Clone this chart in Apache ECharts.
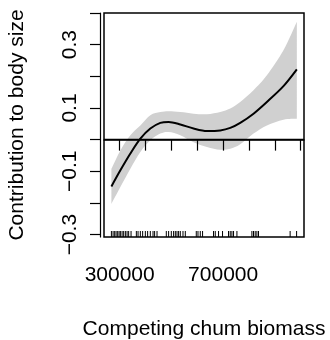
<!DOCTYPE html>
<html>
<head>
<meta charset="utf-8">
<script src="https://cdn.jsdelivr.net/npm/echarts@6/dist/echarts.min.js"></script>
<style>html,body{margin:0;padding:0;background:#fff;}#c{width:330px;height:340px;}</style>
</head>
<body>
<div id="c"></div>
<script>
// Fitted smooth (x = competing chum biomass)
const xFit = [268000, 302700, 341300, 379900, 418500, 457100, 489200, 534400, 585700, 637400, 688800, 727400, 766000, 817400, 869100, 933200, 984900];
const yFit = [-0.148, -0.097, -0.044, 0.003, 0.035, 0.053, 0.056, 0.048, 0.035, 0.027, 0.029, 0.037, 0.053, 0.082, 0.119, 0.169, 0.222];
const yUpper = [-0.092, -0.034, 0.014, 0.045, 0.077, 0.087, 0.090, 0.087, 0.082, 0.080, 0.087, 0.098, 0.119, 0.156, 0.203, 0.282, 0.372];
const yLower = [-0.203, -0.150, -0.092, -0.039, -0.002, 0.019, 0.024, 0.014, -0.008, -0.023, -0.032, -0.029, -0.015, 0.019, 0.045, 0.063, 0.066];
// Rug of observed x values
const rugX = [268000, 274500, 280700, 286100, 292300, 297700, 302700, 309300, 315400, 322000, 328600, 334700, 344000,
  364500, 371000, 379900, 388800, 399200, 408100, 418500, 428900, 435100, 444400,
  480300, 489200, 499600, 508500, 515100, 521600, 527800, 534400, 544800, 553700,
  596100, 602700, 611600, 620500,
  662900, 669500, 682200, 697700, 720800, 727400, 733900, 740200, 753300,
  811200, 817400, 823900, 830500, 836700,
  959000, 984000];
// Axis ticks and labels
const xTicks = [300000, 400000, 500000, 600000, 700000, 800000, 900000, 1000000];
const xLabelValues = [300000, 700000];
const yTicks = [-0.3, -0.2, -0.1, 0, 0.1, 0.2, 0.3, 0.4];
const yLabelValues = [-0.3, -0.1, 0.1, 0.3];
const yLabelText = ['\u22120.3', '\u22120.1', '0.1', '0.3'];
const X_MIN = 239400, X_MAX = 1012600, Y_MIN = -0.3076, Y_MAX = 0.4;

const FONT = 'Liberation Sans, Arial, Helvetica, sans-serif';

// Catmull-Rom -> cubic bezier path segments through screen points
function curveSegs(pts) {
  let d = '';
  for (let i = 0; i < pts.length - 1; i++) {
    const p0 = pts[Math.max(i - 1, 0)], p1 = pts[i], p2 = pts[i + 1], p3 = pts[Math.min(i + 2, pts.length - 1)];
    const c1 = [p1[0] + (p2[0] - p0[0]) / 6, p1[1] + (p2[1] - p0[1]) / 6];
    const c2 = [p2[0] - (p3[0] - p1[0]) / 6, p2[1] - (p3[1] - p1[1]) / 6];
    d += ' C' + c1[0] + ' ' + c1[1] + ' ' + c2[0] + ' ' + c2[1] + ' ' + p2[0] + ' ' + p2[1];
  }
  return d;
}

const chart = echarts.init(document.getElementById('c'), null, {renderer: 'canvas'});
chart.setOption({
  animation: false,
  backgroundColor: '#fff',
  grid: {left: 104, right: 26, top: 13, bottom: 103, containLabel: false, outerBoundsMode: 'none',
    show: true, borderColor: '#000', borderWidth: 1.5, backgroundColor: 'transparent'},
  xAxis: {
    type: 'value', min: X_MIN, max: X_MAX, z: 10,
    name: 'Competing chum biomass', nameLocation: 'middle', nameGap: 82,
    nameTextStyle: {fontFamily: FONT, fontSize: 21, color: '#000'},
    axisLine: {show: true, lineStyle: {color: '#000', width: 1.5}},
    axisTick: {show: true, customValues: xTicks, length: 11, lineStyle: {color: '#000', width: 1.2}},
    axisLabel: {show: true, customValues: xLabelValues, margin: 28, fontFamily: FONT, fontSize: 21, color: '#000',
      formatter: v => String(v)},
    splitLine: {show: false}
  },
  yAxis: {
    type: 'value', min: Y_MIN, max: Y_MAX, offset: 4, z: 10,
    name: 'Contribution to body size', nameLocation: 'middle', nameGap: 72,
    nameTextStyle: {fontFamily: FONT, fontSize: 21, color: '#000'},
    axisLine: {show: true, lineStyle: {color: '#000', width: 1.2}},
    axisTick: {show: true, customValues: yTicks, length: 10, lineStyle: {color: '#000', width: 1.2}},
    axisLabel: {show: true, customValues: yLabelValues, rotate: 90, margin: 19, fontFamily: FONT, fontSize: 21, color: '#000',
      formatter: v => { const i = yLabelValues.findIndex(t => Math.abs(t - v) < 1e-6); return i >= 0 ? yLabelText[i] : ''; }},
    splitLine: {show: false}
  },
  series: [
    {
      type: 'custom', z: 1, silent: true,
      data: [[xFit[0], yFit[0]]],
      renderItem: (params, api) => {
        const up = xFit.map((x, i) => api.coord([x, yUpper[i]]));
        const lo = xFit.map((x, i) => api.coord([x, yLower[i]])).reverse();
        const d = 'M' + up[0][0] + ' ' + up[0][1] + curveSegs(up) +
          ' L' + lo[0][0] + ' ' + lo[0][1] + curveSegs(lo) + ' Z';
        return {type: 'path', shape: {pathData: d}, style: {fill: '#d0d0d0', stroke: null}};
      }
    },
    {
      type: 'line', smooth: 0.3, symbol: 'none', z: 3,
      data: xFit.map((x, i) => [x, yFit[i]]),
      lineStyle: {color: '#000', width: 2},
      markLine: {silent: true, symbol: 'none', label: {show: false},
        lineStyle: {color: '#000', width: 1.3, type: 'solid'}, data: [{yAxis: 0}]}
    },
    {
      type: 'custom', z: 4, silent: true,
      data: rugX.map(v => [v]),
      encode: {x: 0},
      renderItem: (params, api) => {
        const p = api.coord([api.value(0), Y_MIN]);
        return {type: 'line', shape: {x1: p[0], y1: p[1], x2: p[0], y2: p[1] - 6}, style: {stroke: '#000', lineWidth: 1}};
      }
    }
  ]
});
</script>
</body>
</html>
